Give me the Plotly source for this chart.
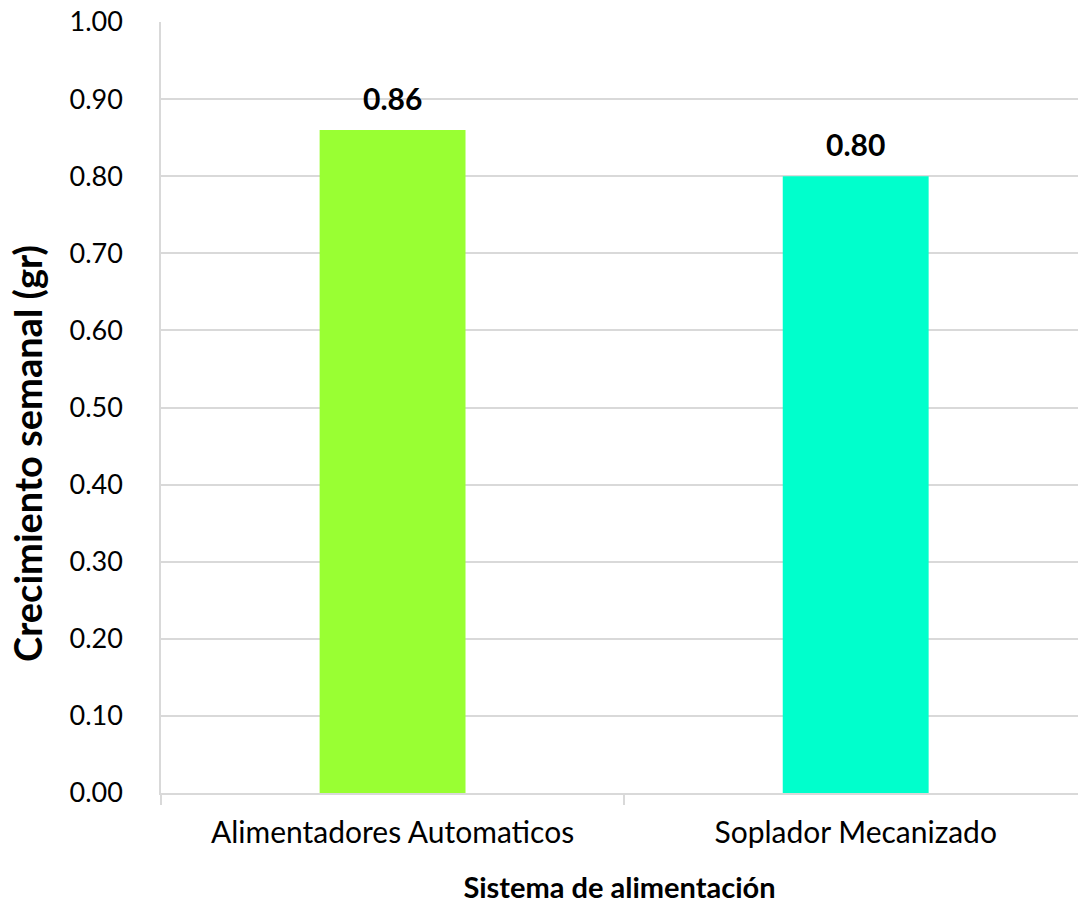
import plotly.graph_objects as go

# Weekly growth by feeding system
categories = ["Alimentadores Automaticos", "Soplador Mecanizado"]
growth = [0.86, 0.80]
bar_colors = ["#99FF33", "#00FFCC"]
y_ticks = [0.0, 0.1, 0.2, 0.3, 0.4, 0.5, 0.6, 0.7, 0.8, 0.9, 1.0]

FONT = "Lato"
GRID = "#d9d9d9"

fig = go.Figure()
fig.add_trace(go.Bar(
    x=categories,
    y=growth,
    marker=dict(color=bar_colors, line=dict(width=0)),
    width=0.315,
    hoverinfo="x+y",
))

# Value labels above bars
for cat, val in zip(categories, growth):
    fig.add_annotation(
        x=cat, y=val, text=f"<b>{val:.2f}</b>",
        showarrow=False, yanchor="bottom", yshift=12,
        font=dict(family=FONT, size=30, color="#000000"),
    )

# Vertical axis title, placed slightly below the plot's mid-height
fig.add_annotation(
    xref="paper", yref="paper", x=-0.146, y=0.44,
    xanchor="center", yanchor="middle", textangle=-90,
    text="<b>Crecimiento semanal (gr)</b>", showarrow=False,
    font=dict(family=FONT, size=38, color="#000000"),
)

fig.update_layout(
    width=1078, height=905,
    margin=dict(l=161, r=0, t=22, b=112),
    paper_bgcolor="white", plot_bgcolor="white",
    showlegend=False,
    font=dict(family=FONT, color="#000000"),
    xaxis=dict(
        range=[-0.5, 1.48],
        showline=True, linecolor=GRID, linewidth=1.5,
        ticks="outside", tickson="boundaries", ticklen=10, tickcolor=GRID, tickwidth=1.5,
        ticklabelstandoff=12,
        tickfont=dict(family=FONT, size=30),
        title=dict(text="<b>Sistema de alimentación</b>", font=dict(family=FONT, size=29), standoff=30),
        showgrid=False,
    ),
    yaxis=dict(
        range=[0, 1.0],
        tickvals=y_ticks,
        ticktext=[f"{v:.2f}" for v in y_ticks],
        showgrid=True, gridcolor=GRID, gridwidth=1.5,
        showline=True, linecolor=GRID, linewidth=1.5,
        ticks="", ticklabelstandoff=31,
        tickfont=dict(family=FONT, size=27),
        zeroline=False,
    ),
)

fig.write_html("out.html")
